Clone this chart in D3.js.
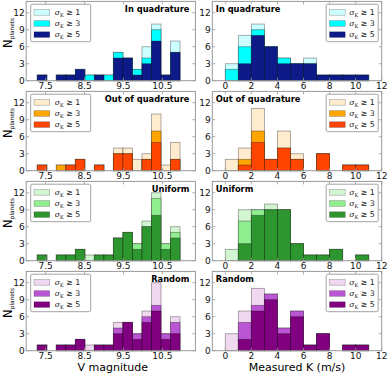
<!DOCTYPE html>
<html>
<head>
<meta charset="utf-8">
<script src="https://cdn.jsdelivr.net/npm/d3@7"></script>
<style>
  body { margin: 0; background: #fff; }
  svg { display: block; font-family: "DejaVu Sans", sans-serif; }
</style>
</head>
<body>
<div id="chart"></div>
<script>
// bin edges
const vEdges = [7.285, 7.53, 7.774, 8.019, 8.264, 8.508, 8.753, 8.998, 9.242, 9.487, 9.732, 9.976, 10.221, 10.466, 10.71, 10.955];
const kEdges = [0, 1, 2, 3, 4, 5, 6, 7, 8, 9, 10, 11];
const vTicks = [7.5, 8.5, 9.5, 10.5];
const kTicks = [0, 2, 4, 6, 8, 10, 12];
const yTicks = [0, 3, 6, 9, 12];
const cuts = ["1", "3", "5"];

const titles = ["In quadrature", "Out of quadrature", "Uniform", "Random"];
const palettes = [
  ["#ccffff", "#00ffff", "#0d1a87"],
  ["#ffebcd", "#ffa500", "#ff4500"],
  ["#d2f6d2", "#90ee90", "#2e962e"],
  ["#f0d8f0", "#ba55d3", "#800080"]
];

// V magnitude histograms (sigma_K >= 1, 3, 5)
const vQuad1 = [1,0,1,1,2,1,1,1,5,4,2,6,10,1,7];
const vQuad3 = [1,0,1,1,2,1,1,1,5,4,2,4,9,1,5];
const vQuad5 = [1,0,1,1,2,0,1,0,4,4,1,3,7,1,5];
const vOut1 = [1,0,1,1,2,0,1,0,4,4,2,3,10,1,5];
const vOut3 = [1,0,1,1,2,0,1,0,3,3,0,2,7,0,2];
const vOut5 = [1,0,0,1,2,0,1,0,3,3,0,2,5,0,2];
const vUni1 = [1,0,1,1,2,1,1,1,4,5,3,7,12,3,6];
const vUni3 = [1,0,1,1,2,0,1,1,4,5,3,6,11,3,5];
const vUni5 = [1,0,1,1,2,0,1,1,4,5,2,6,8,2,4];
const vRan1 = [1,0,1,1,2,1,1,1,5,5,3,7,12,3,6];
const vRan3 = [1,0,1,1,2,0,1,1,4,5,3,6,8,3,5];
const vRan5 = [1,0,1,1,2,0,1,1,3,5,2,5,7,2,3];

// measured K histograms
const kQuad1 = [3,8,10,6,4,3,4,1,1,1,1];
const kQuad3 = [2,6,9,6,4,3,3,1,1,1,1];
const kQuad5 = [0,3,8,6,3,3,3,1,1,1,1];
const kOut1 = [2,4,11,2,7,3,0,3,0,1,1];
const kOut3 = [0,2,7,2,4,2,0,3,0,1,1];
const kOut5 = [0,1,5,2,4,2,0,3,0,1,1];
const kUni1 = [2,9,9,10,9,3,1,1,2,0,1];
const kUni3 = [0,7,9,9,9,3,1,1,2,0,1];
const kUni5 = [0,3,8,9,9,3,1,1,2,0,1];
const kRan1 = [3,7,11,10,4,7,1,3,0,1,1];
const kRan3 = [0,5,8,10,4,7,1,3,0,1,1];
const kRan5 = [0,2,7,9,3,6,1,3,0,1,1];

const vData = [[vQuad1, vQuad3, vQuad5], [vOut1, vOut3, vOut5], [vUni1, vUni3, vUni5], [vRan1, vRan3, vRan5]];
const kData = [[kQuad1, kQuad3, kQuad5], [kOut1, kOut3, kOut5], [kUni1, kUni3, kUni5], [kRan1, kRan3, kRan5]];

var width = 390, height = 375;
var svg = d3.select("#chart").append("svg").attr("width", width).attr("height", height);

const xV = d3.scaleLinear().domain([7.0, 11.35]).range([26.2, 195.4]);
const xK = d3.scaleLinear().domain([-1, 12]).range([212.3, 381.7]);
const rowTop = i => 1.4 + i * 90;
const panelH = 79.3;

function drawPanel(row, x, edges, series, ticks, tickFmt, left) {
  const top = rowTop(row);
  const y = d3.scaleLinear().domain([0, 14]).range([top + panelH, top]);
  const g = svg.append("g");
  const [x0, x1] = x.range();

  // bars: light first, dark on top
  series.forEach((counts, s) => {
    const bins = counts.map((n, i) => ({ n, lo: edges[i], hi: edges[i + 1] })).filter(b => b.n > 0);
    g.selectAll(null).data(bins).enter().append("rect")
      .attr("x", d => x(d.lo))
      .attr("y", d => y(d.n))
      .attr("width", d => x(d.hi) - x(d.lo))
      .attr("height", d => y(0) - y(d.n))
      .attr("fill", palettes[row][s])
      .attr("stroke", "#000").attr("stroke-opacity", 0.35).attr("stroke-width", 0.9);
  });

  // frame
  g.append("rect").attr("x", x0).attr("y", top).attr("width", x1 - x0).attr("height", panelH)
    .attr("fill", "none").attr("stroke", "#999").attr("stroke-width", 1);

  // ticks
  ticks.forEach(t => {
    g.append("line").attr("x1", x(t)).attr("x2", x(t)).attr("y1", y(0)).attr("y2", y(0) - 3)
      .attr("stroke", "#999").attr("stroke-width", 0.8);
    g.append("line").attr("x1", x(t)).attr("x2", x(t)).attr("y1", top).attr("y2", top + 3)
      .attr("stroke", "#999").attr("stroke-width", 0.8);
    g.append("text").attr("x", x(t)).attr("y", y(0) + 8.3).attr("text-anchor", "middle")
      .attr("font-size", 9).attr("fill", "#111").text(tickFmt(t));
  });
  yTicks.forEach(t => {
    g.append("line").attr("x1", x0).attr("x2", x0 + 3).attr("y1", y(t)).attr("y2", y(t))
      .attr("stroke", "#999").attr("stroke-width", 0.8);
    g.append("line").attr("x1", x1).attr("x2", x1 - 3).attr("y1", y(t)).attr("y2", y(t))
      .attr("stroke", "#999").attr("stroke-width", 0.8);
    g.append("text").attr("x", x0 - 1.5).attr("y", y(t) + 3.3).attr("text-anchor", "end")
      .attr("font-size", 9).attr("fill", "#111").text(t);
  });

  // title
  g.append("text")
    .attr("x", left ? x1 - 6 : x0 + 3.5).attr("y", top + 10.9)
    .attr("text-anchor", left ? "end" : "start")
    .attr("font-size", 8.3).attr("font-weight", "bold").attr("fill", "#000")
    .text(titles[row]);

  // legend
  const lx = left ? x0 + 4.5 : x1 - 55.5;
  const lw = left ? 60 : 52;
  const lg = g.append("g").attr("transform", `translate(${lx},${top + 2.8})`);
  lg.append("rect").attr("x", 0).attr("y", 0).attr("width", lw).attr("height", 37.5).attr("rx", 1.5)
    .attr("fill", "#fff").attr("stroke", "#999").attr("stroke-width", 0.9);
  cuts.forEach((c, s) => {
    const cy = 8.2 + s * 11.1;
    lg.append("rect").attr("x", 3.3).attr("y", cy - 2.8).attr("width", 15.7).attr("height", 5.6)
      .attr("fill", palettes[row][s]).attr("stroke", "#000").attr("stroke-opacity", 0.35).attr("stroke-width", 0.6);
    const t = lg.append("text").attr("x", left ? 24 : 23).attr("y", cy + 2.6)
      .attr("font-size", 7.8).attr("fill", "#222");
    t.append("tspan").attr("font-family", "DejaVu Serif").attr("font-style", "italic").text("σ");
    t.append("tspan").attr("font-family", "DejaVu Serif").attr("font-size", 5).attr("dy", 1.6).text("K");
    t.append("tspan").attr("dy", -1.6).text(" ≥ " + c);
  });
}

for (let r = 0; r < 4; r++) {
  drawPanel(r, xV, vEdges, vData[r], vTicks, d3.format(".1f"), true);
  drawPanel(r, xK, kEdges, kData[r], kTicks, d3.format("d"), false);
  // y label
  const yl = svg.append("text").attr("transform", `translate(12,${rowTop(r) + 46.5}) rotate(-90)`)
    .attr("font-size", 11.5).attr("fill", "#000");
  yl.append("tspan").text("N");
  yl.append("tspan").attr("font-size", 5.8).attr("dy", 2).text("planets");
}

svg.append("text").attr("x", 112.8).attr("y", 370.5).attr("text-anchor", "middle")
  .attr("font-size", 11).attr("fill", "#000").text("V magnitude");
svg.append("text").attr("x", 297).attr("y", 370.5).attr("text-anchor", "middle")
  .attr("font-size", 11).attr("fill", "#000").text("Measured K (m/s)");
</script>
</body>
</html>
